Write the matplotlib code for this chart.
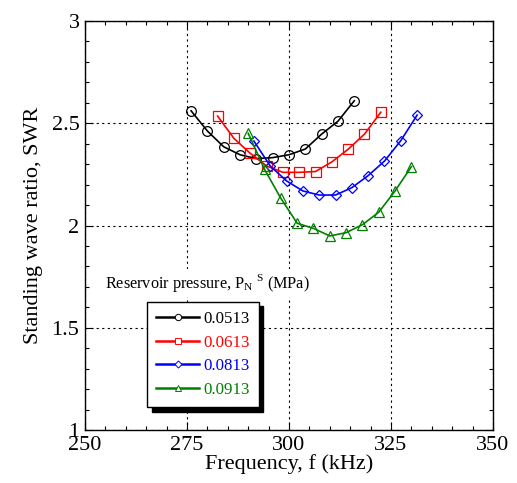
import matplotlib
matplotlib.use("Agg")
import matplotlib.pyplot as plt
from matplotlib.ticker import MultipleLocator

plt.rcParams["font.family"] = ["Liberation Serif", "DejaVu Serif"]
plt.rcParams["mathtext.fontset"] = "custom"
plt.rcParams["mathtext.rm"] = "Liberation Serif"

# SWR vs frequency for each reservoir pressure (MPa)
pressures = ["0.0513", "0.0613", "0.0813", "0.0913"]
colors = ["black", "red", "blue", "green"]
markers = ["o", "s", "D", "^"]

freq_0513 = [276, 280, 284, 288, 292, 296, 300, 304, 308, 312, 316]
swr_0513 = [2.561, 2.462, 2.385, 2.346, 2.327, 2.332, 2.346, 2.374, 2.447, 2.510, 2.610]

freq_0613 = [282.5, 286.5, 290.5, 294.5, 298.5, 302.5, 306.5, 310.5, 314.5, 318.5, 322.5]
swr_0613 = [2.535, 2.426, 2.353, 2.291, 2.260, 2.260, 2.264, 2.311, 2.373, 2.447, 2.554]

freq_0813 = [291.4, 295.4, 299.4, 303.4, 307.4, 311.4, 315.4, 319.4, 323.4, 327.4, 331.4]
swr_0813 = [2.413, 2.291, 2.218, 2.169, 2.149, 2.149, 2.185, 2.244, 2.315, 2.415, 2.540]

freq_0913 = [290, 294, 298, 302, 306, 310, 314, 318, 322, 326, 330]
swr_0913 = [2.451, 2.275, 2.133, 2.011, 1.986, 1.949, 1.965, 2.004, 2.065, 2.169, 2.288]

freqs = [freq_0513, freq_0613, freq_0813, freq_0913]
swrs = [swr_0513, swr_0613, swr_0813, swr_0913]

fig = plt.figure(figsize=(5.17, 4.83), dpi=100)
ax = fig.add_axes([0.1644, 0.1097, 0.7892, 0.8468])

for f, s, c, m, p in zip(freqs, swrs, colors, markers, pressures):
    ms = 5.5 if m == "D" else 7
    ax.plot(f, s, color=c, marker=m, ms=ms, mfc="none", mec=c, mew=0.9,
            lw=1.2, label=p)

ax.set_xlim(250, 350)
ax.set_ylim(1, 3)
ax.xaxis.set_major_locator(MultipleLocator(25))
ax.xaxis.set_minor_locator(MultipleLocator(5))
ax.yaxis.set_minor_locator(MultipleLocator(0.1))
ax.set_yticks([1, 1.5, 2, 2.5, 3])
ax.set_yticklabels(["1", "1.5", "2", "2.5", "3"])
ax.tick_params(which="both", direction="in", top=True, right=True,
               labelsize=16, pad=4)
ax.tick_params(which="major", length=6, width=0.8)
ax.tick_params(which="minor", length=3, width=0.8)
for sp in ax.spines.values():
    sp.set_linewidth(1.0)
ax.grid(True, which="major", color="black", ls=(0, (2, 3)), lw=0.8)
ax.set_axisbelow(True)

ax.set_xlabel("Frequency, f (kHz)", fontsize=16, labelpad=0)
ax.set_ylabel("Standing wave ratio, SWR", fontsize=16, labelpad=6)

leg = ax.legend(loc="lower left", bbox_to_anchor=(0.152, 0.056), fontsize=12.2,
                frameon=True, fancybox=False, edgecolor="black",
                shadow={"ox": 3.5, "oy": -3.5, "color": "black", "alpha": 1},
                handlelength=2.5, handletextpad=0.25, labelspacing=0.45,
                borderpad=0.55, markerscale=0.65, borderaxespad=0)
leg.get_frame().set_linewidth(1.0)
for txt, c in zip(leg.get_texts(), colors):
    txt.set_color(c)
for h in leg.get_lines():
    h.set_linewidth(1.8)
    h.set_markeredgewidth(0.7)
    h.set_markerfacecolor("white")

ax.text(0.049, 0.359, r"Reservoir pressure, P$_{\rm N}$$^{\ \rm S}$ (MPa)",
        transform=ax.transAxes, fontsize=11.7, va="center", ha="left",
        bbox=dict(facecolor="white", edgecolor="none", pad=2))

fig.savefig("out.png", dpi=100)
